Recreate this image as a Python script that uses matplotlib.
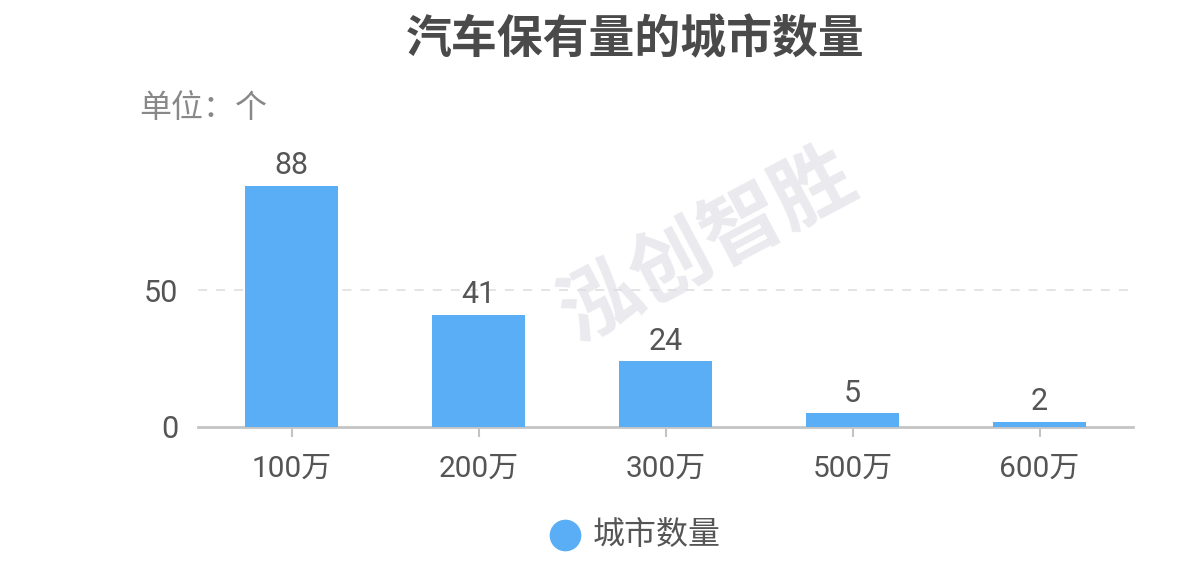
import matplotlib
matplotlib.use("Agg")
import matplotlib.pyplot as plt

plt.rcParams["font.family"] = ["Roboto", "Noto Sans CJK SC", "DejaVu Sans"]
CJK = ["Noto Sans CJK SC", "DejaVu Sans"]

categories = ["100万", "200万", "300万", "500万", "600万"]
counts = [88, 41, 24, 5, 2]
yticks = [0, 50]
title = "汽车保有量的城市数量"
series_name = "城市数量"
unit = "单位：个"

BLUE = "#5AAEF5"
TXT = "#555555"

fig = plt.figure(figsize=(11.81, 5.72), dpi=100)
ax = fig.add_axes([0.1677, 0.2535, 0.7917, 0.479])

x = list(range(len(categories)))
ax.bar(x, counts, width=0.5, color=BLUE, zorder=3)
for xi, v in zip(x, counts):
    ax.text(xi, v + 2, str(v), ha="center", va="bottom", fontsize=22, color=TXT, zorder=4)

ax.set_xlim(-0.5, len(categories) - 0.5)
ax.set_ylim(0, 100)
ax.set_yticks(yticks)
ax.set_yticklabels([str(t) for t in yticks], fontsize=22, color=TXT)
ax.set_xticks(x)
ax.set_xticklabels(categories, fontsize=21.5, color=TXT)
ax.tick_params(axis="y", length=0, pad=14)
ax.tick_params(axis="x", length=7, width=1.5, color="#c4c4c4", pad=13)
for t in yticks[1:]:
    ax.axhline(t, color="#e2e2e2", lw=1.3, ls=(0, (5, 5)), zorder=1)

for s in ["top", "right", "left"]:
    ax.spines[s].set_visible(False)
ax.spines["bottom"].set_color("#c4c4c4")
ax.spines["bottom"].set_linewidth(2)

# watermark
fig.text(0.6, 0.57, "泓创智胜", fontsize=58, color="#dcdce4", alpha=0.6, family=CJK,
         rotation=28, ha="center", va="center", fontweight="bold", zorder=0)

fig.text(0.538, 0.93, title, ha="center", va="center", fontsize=33, family=CJK,
         fontweight="bold", color="#4a4a4a")
fig.text(0.118, 0.812, unit, ha="left", va="center", fontsize=23, family=CJK,
         color="#888888")

# legend
leg_ax = fig.add_axes([0, 0, 1, 1], facecolor="none")
leg_ax.set_xlim(0, 1181)
leg_ax.set_ylim(572, 0)
leg_ax.axis("off")
leg_ax.scatter([565], [535], s=520, color=BLUE, marker="o", linewidths=0)
leg_ax.text(593, 535, series_name, ha="left", va="center", fontsize=23, family=CJK,
            color=TXT)

fig.savefig("out.png", dpi=100)
